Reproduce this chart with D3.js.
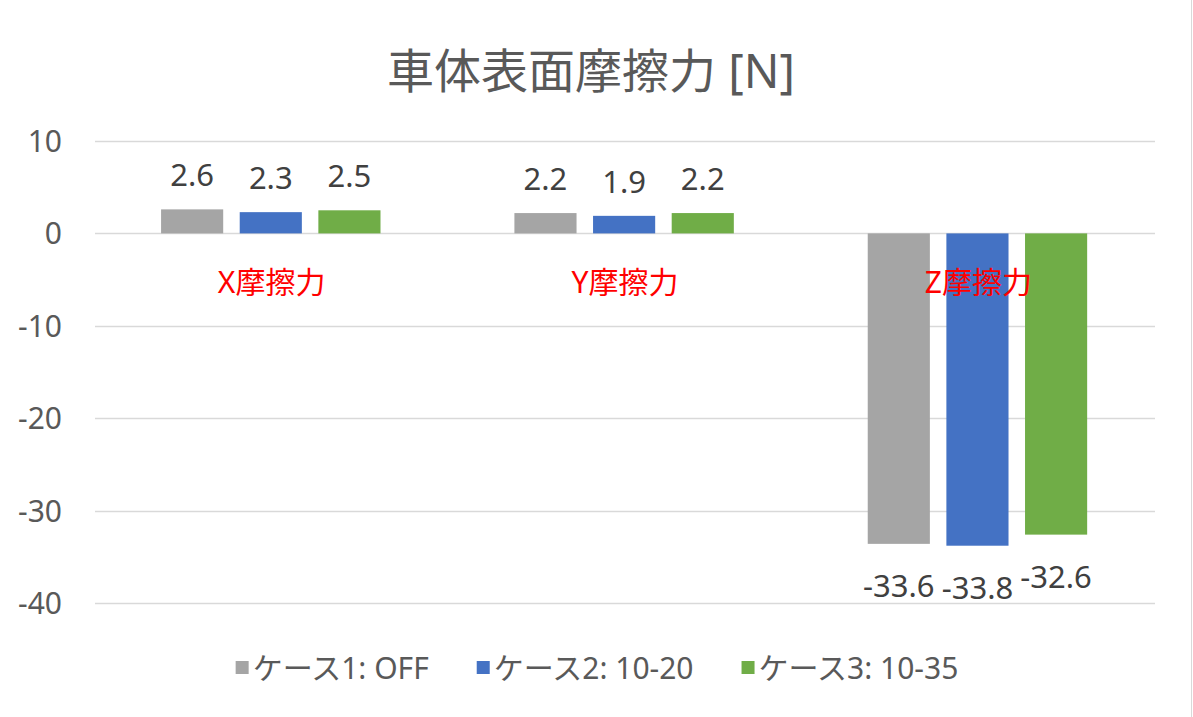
<!DOCTYPE html>
<html><head><meta charset="utf-8">
<script src="https://cdn.jsdelivr.net/npm/d3@7"></script>
<style>
html,body{margin:0;padding:0;background:#fff;}
svg{display:block;font-family:"Noto Sans","Noto Sans CJK JP",sans-serif;}
</style></head>
<body>
<script>
const title = "車体表面摩擦力 [N]";
const categories = ["X摩擦力", "Y摩擦力", "Z摩擦力"];
const seriesNames = ["ケース1: OFF", "ケース2: 10-20", "ケース3: 10-35"];
const seriesColors = ["#a5a5a5", "#4472c4", "#70ad47"];
const case1 = [2.6, 2.2, -33.6];
const case2 = [2.3, 1.9, -33.8];
const case3 = [2.5, 2.2, -32.6];
const yTicks = [10, 0, -10, -20, -30, -40];

const series = [case1, case2, case3];
const W = 1193, H = 717;
const svg = d3.select("body").append("svg").attr("width", W).attr("height", H);
const fmt = v => d3.format(".1f")(v).replace("\u2212", "-");

const plotL = 95, plotR = 1155, plotT = 141, plotB = 603;
const x0 = d3.scaleBand().domain(categories).range([plotL, plotR]).padding(0);
const bw = x0.bandwidth();
const x1 = d3.scaleBand().domain(d3.range(series.length))
  .range([bw * 0.187, bw * 0.808]).paddingInner(0.21).paddingOuter(0);
const y = d3.scaleLinear().domain([-40, 10]).range([plotB, plotT]);

// right border
svg.append("line").attr("x1", W - 1.5).attr("x2", W - 1.5).attr("y1", 0).attr("y2", H)
  .attr("stroke", "#d9d9d9").attr("stroke-width", 1);

// title
svg.append("text").attr("x", 591).attr("y", 88).attr("text-anchor", "middle")
  .attr("font-size", 47).attr("fill", "#595959").text(title);

// gridlines
svg.append("g").selectAll("line").data(yTicks).join("line")
  .attr("x1", plotL).attr("x2", plotR)
  .attr("y1", d => Math.round(y(d)) + 0.5).attr("y2", d => Math.round(y(d)) + 0.5)
  .attr("stroke", "#d9d9d9").attr("stroke-width", 1.5);

// y axis labels
const yAxis = d3.axisLeft(y).tickValues(yTicks).tickSize(0).tickPadding(0)
  .tickFormat(d => String(d));
const ga = svg.append("g").attr("transform", `translate(62,0)`).call(yAxis);
ga.select(".domain").remove();
ga.selectAll("text").attr("font-size", 30).attr("fill", "#595959")
  .attr("font-family", "'Noto Sans','Noto Sans CJK JP',sans-serif").attr("dy", "0.35em");

// bars
const groups = svg.append("g").selectAll("g").data(categories).join("g")
  .attr("transform", d => `translate(${x0(d)},0)`);
groups.selectAll("rect").data((c, ci) => series.map((s, si) => ({si, v: s[ci]}))).join("rect")
  .attr("x", d => x1(d.si)).attr("width", x1.bandwidth())
  .attr("y", d => y(Math.max(0, d.v))).attr("height", d => Math.abs(y(d.v) - y(0)))
  .attr("fill", d => seriesColors[d.si]);

// data labels
groups.selectAll("text.val").data((c, ci) => series.map((s, si) => ({si, v: s[ci]}))).join("text")
  .attr("class", "val")
  .attr("x", d => x1(d.si) + x1.bandwidth() / 2)
  .attr("y", d => d.v >= 0 ? y(d.v) - 23 : y(d.v) + 53)
  .attr("text-anchor", "middle").attr("font-size", 31).attr("fill", "#404040")
  .text(d => fmt(d.v));

// category labels
svg.append("g").selectAll("text").data(categories).join("text")
  .attr("x", d => x0(d) + bw / 2).attr("y", 293).attr("text-anchor", "middle")
  .attr("font-size", 30).attr("fill", "#ff0000").text(d => d);

// legend
const legend = svg.append("g");
const items = legend.selectAll("g").data(seriesNames).join("g");
items.append("rect").attr("width", 13).attr("height", 13).attr("y", 661)
  .attr("fill", (d, i) => seriesColors[i]);
items.append("text").attr("x", 17).attr("y", 679).attr("font-size", 30)
  .attr("fill", "#595959").text(d => d);
const widths = [];
items.each(function () { widths.push(this.getBBox().width); });
const gap = 48;
const total = d3.sum(widths) + gap * (widths.length - 1);
let start = 597 - total / 2;
items.attr("transform", (d, i) => { const t = `translate(${start},0)`; start += widths[i] + gap; return t; });
</script>
</body></html>
